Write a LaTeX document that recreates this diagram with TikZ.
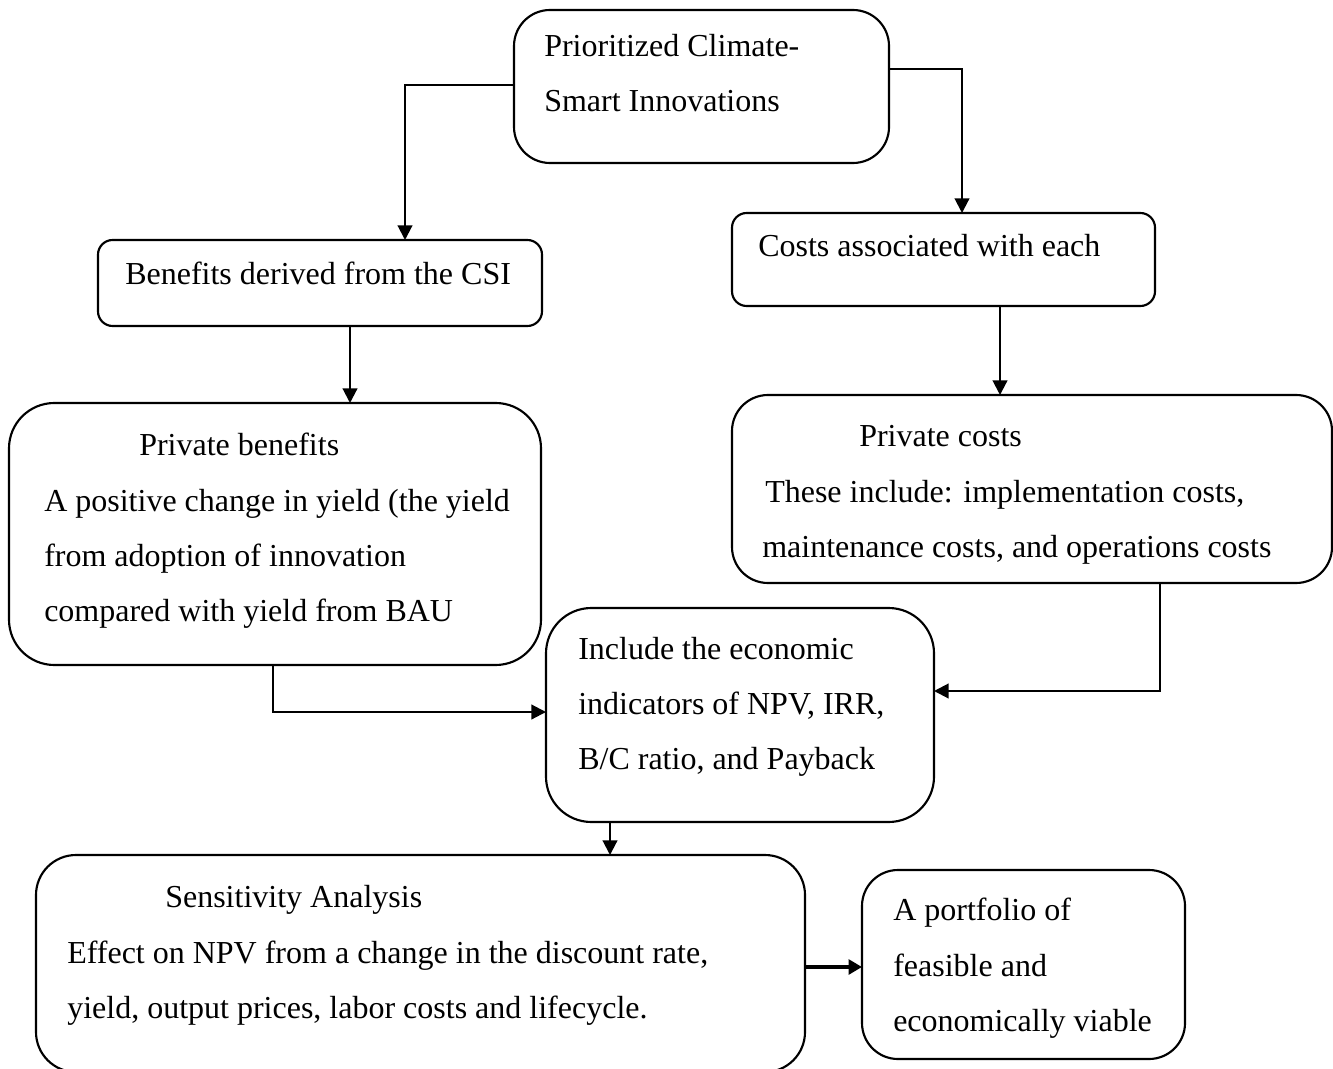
\documentclass[tikz,border=0pt]{standalone}
\usepackage{fontspec}
\setmainfont{Liberation Serif}
\usetikzlibrary{arrows.meta,fit}
\begin{document}
\begin{tikzpicture}[x=0.75pt,y=-0.75pt,
  box/.style={draw=black, line width=1.6pt, inner sep=0pt, outer sep=0pt, rectangle},
  txt/.style={anchor=base west, inner sep=0pt, font=\fontsize{24}{24}\selectfont},
  arr/.style={line width=1.6pt, -{Triangle[length=11pt,width=11pt]}},
  thickarr/.style={line width=3pt, -{Triangle[length=10pt,width=11pt]}}]
\useasboundingbox (0,0) rectangle (1333,1069);
\begin{scope}
\clip (0,0) rectangle (1333,1069);
% boxes
\node (top)   [box, rounded corners=27pt, fit={(514,10)(889,163)}] {};
\node (ben)   [box, rounded corners=11pt, fit={(98,240)(542,326)}] {};
\node (cost)  [box, rounded corners=11pt, fit={(732,213)(1155,306)}] {};
\node (pben)  [box, rounded corners=34pt, fit={(9,403)(541,665)}] {};
\node (pcost) [box, rounded corners=27pt, fit={(732,395)(1332,583)}] {};
\node (inc)   [box, rounded corners=34pt, fit={(546,608)(934,822)}] {};
\node (sens)  [box, rounded corners=30pt, fit={(36,855)(805,1072)}] {};
\node (port)  [box, rounded corners=27pt, fit={(862,870)(1185,1059)}] {};
\end{scope}
% texts
\node (t1) [txt] at (544,57) {Prioritized Climate-};
\node (t2) [txt] at (544,112) {Smart Innovations};
\node (t3) [txt] at (125,285) {Benefits derived from the CSI};
\node (t4) [txt] at (758,257) {Costs associated with each};
\node (t5) [txt] at (139,455) {Private benefits};
\node (t6) [txt] at (44,511) {A positive change in yield (the yield};
\node (t7) [txt] at (44,566) {from adoption of innovation};
\node (t8) [txt] at (44,621) {compared with yield from BAU};
\node (t9) [txt] at (859,446) {Private costs};
\node (t10) [txt] at (765,502) {These include: implementation costs,};
\node (t11) [txt] at (762,557) {maintenance costs, and operations costs};
\node (t12) [txt] at (578,659) {Include the economic};
\node (t13) [txt] at (578,714) {indicators of NPV, IRR,};
\node (t14) [txt] at (578,769) {B/C ratio, and Payback};
\node (t15) [txt] at (165,907) {Sensitivity Analysis};
\node (t16) [txt] at (67,963) {Effect on NPV from a change in the discount rate,};
\node (t17) [txt] at (67,1018) {yield, output prices, labor costs and lifecycle.};
\node (t18) [txt] at (893,920) {A portfolio of};
\node (t19) [txt] at (893,976) {feasible and};
\node (t20) [txt] at (893,1031) {economically viable};
% connector coordinates
\coordinate (c1) at (405,85);
\coordinate (c2) at (962,69);
\coordinate (c3) at (350,0);
\coordinate (c4) at (1000,0);
\coordinate (c5) at (273,712);
\coordinate (c6) at (1160,691);
\coordinate (c7) at (610,0);
\coordinate (c8) at (0,967);
% connectors
\draw[arr] (top.west |- c1) -| (c1 |- ben.north);
\draw[arr] (top.east |- c2) -| (c2 |- cost.north);
\draw[arr] (ben.south -| c3) -- (c3 |- pben.north);
\draw[arr] (cost.south -| c4) -- (c4 |- pcost.north);
\draw[arr] (pben.south -| c5) |- (inc.west |- c5);
\draw[arr] (pcost.south -| c6) |- (inc.east |- c6);
\draw[arr] (inc.south -| c7) -- (c7 |- sens.north);
\draw[thickarr] (sens.east |- c8) -- (port.west |- c8);
\end{tikzpicture}
\end{document}
